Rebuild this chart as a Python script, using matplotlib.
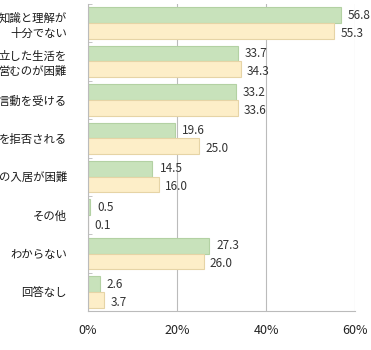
import numpy as np
import matplotlib.pyplot as plt

plt.rcParams['font.family'] = ['Noto Sans CJK JP', 'DejaVu Sans']

# labels are cut at the left edge in the source image; keep the visible part
categories = ['知識と理解が\n十分でない', '立した生活を\n営むのが困難', '言動を受ける',
              'を拒否される', 'の入居が困難', 'その他', 'わからない', '回答なし']
green_vals = [56.8, 33.7, 33.2, 19.6, 14.5, 0.5, 27.3, 2.6]
yellow_vals = [55.3, 34.3, 33.6, 25.0, 16.0, 0.1, 26.0, 3.7]
xticks = [0, 20, 40, 60]

fig = plt.figure(figsize=(3.71, 3.5), dpi=100)
ax = fig.add_axes([0.237, 0.111, 0.72, 0.878])

y = np.arange(len(categories))
h = 0.41
ax.barh(y - h / 2, green_vals, height=h, color='#c8e2bb', edgecolor='#b3d1a3', linewidth=0.8)
ax.barh(y + h / 2, yellow_vals, height=h, color='#fdeec8', edgecolor='#e6d4a6', linewidth=0.8)

for i in range(len(categories)):
    ax.text(green_vals[i] + 1.6, y[i] - h / 2, f'{green_vals[i]:.1f}', va='center', ha='left',
            fontsize=8.5, color='#333333')
    ax.text(yellow_vals[i] + 1.4, y[i] + h / 2 + 0.06, f'{yellow_vals[i]:.1f}', va='center', ha='left',
            fontsize=8.5, color='#333333')

ax.set_xlim(0, 60)
ax.set_ylim(len(categories) - 0.5, -0.5)
ax.set_xticks(xticks)
ax.set_xticklabels([f'{v}%' for v in xticks], fontsize=9, color='#222222')
ax.set_yticks(y)
ax.set_yticklabels(categories, fontsize=8.2, color='#1a1a1a', linespacing=1.4)
ax.set_yticks(np.arange(len(categories) + 1) - 0.5, minor=True)
ax.tick_params(axis='y', which='major', length=0, pad=15)
ax.tick_params(axis='y', which='minor', length=3, direction='in', color='#bbbbbb')
ax.tick_params(axis='x', length=0, pad=9)
ax.xaxis.grid(True, color='#bbbbbb', linewidth=0.8)
ax.set_axisbelow(True)
for side in ['top', 'right']:
    ax.spines[side].set_visible(False)
ax.spines['left'].set_color('#bbbbbb')
ax.spines['bottom'].set_color('#bbbbbb')

fig.savefig('out.png', dpi=100)
